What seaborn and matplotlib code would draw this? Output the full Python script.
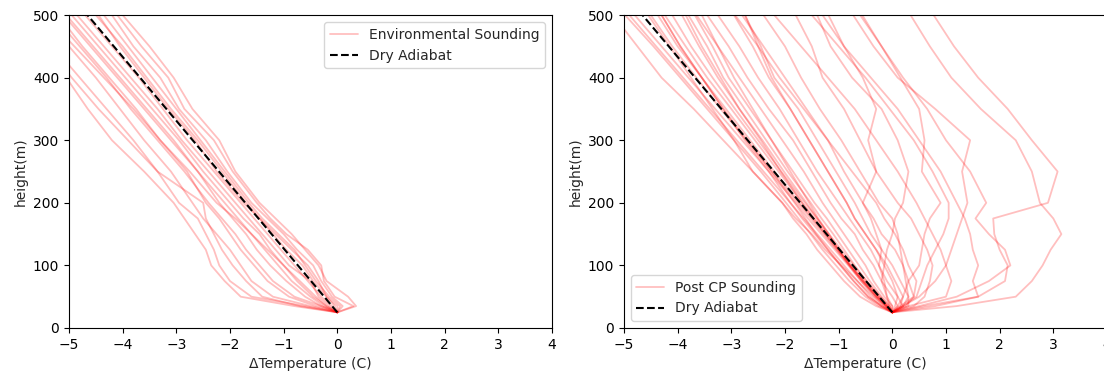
import matplotlib
matplotlib.use("Agg")
import matplotlib.pyplot as plt
import seaborn as sns

# Shared sampling heights (m) for every sounding
heights_m = [25, 35, 50, 75, 100, 125, 150, 175, 200, 250, 300, 350, 400, 450, 500]

# Dry adiabat end points
adiabat_heights = [25, 500]
adiabat_temps = [0.0, -4.655]

# ---- Environmental soundings (left panel), delta T (C) at heights_m ----
env_01 = [0, 0.35, 0.20, -0.20, -0.35, -0.60, -0.85, -1.15, -1.45, -1.90, -2.20, -2.70, -3.05, -3.50, -4.00]
env_02 = [0, 0.30, -0.05, -0.25, -0.30, -0.55, -0.95, -1.25, -1.50, -1.95, -2.30, -2.85, -3.15, -3.65, -4.10]
env_03 = [0, 0.10, -0.10, -0.30, -0.45, -0.75, -1.00, -1.30, -1.60, -2.05, -2.45, -2.95, -3.30, -3.80, -4.20]
env_04 = [0, 0.05, -0.15, -0.40, -0.60, -0.80, -1.10, -1.40, -1.65, -2.10, -2.55, -3.00, -3.45, -3.90, -4.35]
env_05 = [0, -0.05, -0.20, -0.45, -0.65, -0.95, -1.20, -1.45, -1.75, -2.25, -2.65, -3.15, -3.60, -4.05, -4.45]
env_06 = [0, -0.10, -0.30, -0.55, -0.80, -1.05, -1.30, -1.55, -1.80, -2.30, -2.80, -3.25, -3.70, -4.20, -4.70]
env_07 = [0, -0.15, -0.35, -0.50, -0.90, -1.15, -1.40, -1.65, -1.90, -2.40, -2.90, -3.35, -3.85, -4.35, -4.85]
env_08 = [0, -0.20, -0.40, -0.70, -1.00, -1.25, -1.45, -1.75, -2.00, -2.50, -2.95, -3.45, -3.95, -4.45, -4.95]
env_09 = [0, -0.25, -0.50, -0.85, -1.10, -1.35, -1.60, -1.85, -2.10, -2.60, -3.05, -3.55, -4.05, -4.55, -5.05]
env_10 = [0, -0.30, -0.60, -0.95, -1.25, -1.50, -1.70, -1.95, -2.20, -2.60, -3.10, -3.60, -4.10, -4.60, -5.10]
env_11 = [0, -0.40, -0.90, -1.30, -1.55, -1.80, -2.00, -2.20, -2.45, -2.80, -3.30, -3.75, -4.25, -4.75, -5.20]
env_12 = [0, -0.50, -1.20, -1.60, -1.80, -2.00, -2.25, -2.50, -2.70, -3.10, -3.60, -4.05, -4.50, -5.00, -5.50]
env_13 = [0, -0.60, -1.60, -2.00, -2.20, -2.30, -2.45, -2.60, -2.95, -3.35, -3.80, -4.30, -4.80, -5.30, -5.80]
env_14 = [0, -0.80, -1.80, -2.10, -2.35, -2.45, -2.65, -2.85, -3.05, -3.60, -4.20, -4.65, -5.05, -5.50, -6.00]
env_15 = [0, -0.70, -1.40, -1.70, -1.95, -2.15, -2.30, -2.45, -2.50, -3.35, -3.90, -4.45, -4.95, -5.40, -5.90]
env_16 = [0, -0.30, -0.80, -1.20, -1.45, -1.70, -1.90, -2.15, -2.40, -2.85, -3.35, -3.85, -4.30, -4.80, -5.30]
env_17 = [0, -0.20, -0.45, -0.75, -1.00, -1.30, -1.60, -1.90, -2.25, -2.75, -3.30, -3.80, -4.35, -4.90, -5.45]
env_18 = [0, 0.00, -0.20, -0.35, -0.55, -0.85, -1.15, -1.45, -1.70, -2.15, -2.60, -3.10, -3.55, -4.00, -4.50]

# ---- Post cold-pool soundings (right panel), delta T (C) at heights_m ----
post_01 = [0, -0.15, -0.35, -0.65, -0.95, -1.25, -1.50, -1.80, -2.05, -2.60, -3.15, -3.70, -4.30, -4.75, -5.20]
post_02 = [0, -0.20, -0.40, -0.65, -0.90, -1.15, -1.40, -1.65, -1.90, -2.40, -2.90, -3.40, -3.90, -4.40, -4.90]
post_03 = [0, -0.12, -0.30, -0.58, -0.82, -1.07, -1.32, -1.57, -1.80, -2.30, -2.80, -3.30, -3.80, -4.30, -4.80]
post_04 = [0, -0.10, -0.28, -0.55, -0.80, -1.04, -1.28, -1.52, -1.76, -2.25, -2.72, -3.20, -3.65, -4.10, -4.50]
post_05 = [0, -0.08, -0.25, -0.52, -0.77, -1.01, -1.25, -1.49, -1.73, -2.20, -2.65, -3.10, -3.55, -4.00, -4.37]
post_06 = [0, -0.10, -0.27, -0.53, -0.78, -1.00, -1.22, -1.45, -1.68, -2.12, -2.56, -3.00, -3.45, -3.85, -4.24]
post_07 = [0, -0.05, -0.22, -0.48, -0.72, -0.95, -1.18, -1.40, -1.63, -2.07, -2.50, -2.93, -3.35, -3.75, -4.10]
post_08 = [0, -0.12, -0.30, -0.55, -0.78, -1.00, -1.20, -1.40, -1.60, -2.02, -2.42, -2.85, -3.25, -3.60, -3.92]
post_09 = [0, -0.10, -0.25, -0.48, -0.70, -0.90, -1.10, -1.32, -1.52, -1.95, -2.35, -2.75, -3.15, -3.45, -3.80]
post_10 = [0, -0.05, -0.20, -0.42, -0.62, -0.82, -1.02, -1.22, -1.45, -1.85, -2.25, -2.65, -3.05, -3.35, -3.68]
post_11 = [0, -0.15, -0.33, -0.58, -0.80, -1.00, -1.18, -1.38, -1.55, -1.90, -2.25, -2.60, -2.95, -3.25, -3.55]
post_12 = [0, -0.20, -0.45, -0.72, -0.97, -1.20, -1.42, -1.62, -1.82, -2.25, -2.70, -3.15, -3.55, -3.95, -4.30]
post_13 = [0, -0.30, -0.60, -0.90, -1.15, -1.40, -1.60, -1.85, -2.05, -2.60, -2.95, -3.35, -3.75, -4.15, -4.55]
post_14 = [0, -0.25, -0.50, -0.80, -1.05, -1.30, -1.52, -1.75, -1.98, -2.45, -2.95, -3.45, -3.95, -4.45, -4.98]
post_15 = [0, -0.20, -0.45, -0.72, -0.96, -1.20, -1.44, -1.68, -1.90, -2.30, -2.75, -3.15, -3.55, -3.95, -4.30]
post_16 = [0, -0.10, -0.30, -0.55, -0.80, -1.03, -1.25, -1.47, -1.68, -2.08, -2.45, -2.85, -3.20, -3.55, -3.85]
post_17 = [0, 0.00, -0.15, -0.35, -0.50, -0.70, -0.90, -1.10, -1.30, -1.65, -2.05, -2.45, -2.85, -3.25, -3.65]
post_18 = [0, 0.10, 0.00, -0.20, -0.35, -0.55, -0.70, -0.95, -1.15, -1.50, -1.85, -2.30, -2.70, -3.05, -3.45]
post_19 = [0, 0.20, 0.10, -0.10, -0.25, -0.40, -0.60, -0.80, -1.00, -1.40, -1.75, -2.10, -2.50, -2.85, -3.25]
post_20 = [0, 0.15, 0.20, 0.05, -0.10, -0.30, -0.50, -0.70, -0.85, -1.20, -1.55, -1.90, -2.30, -2.60, -2.95]
post_21 = [0, 0.30, 0.30, 0.15, 0.00, -0.20, -0.40, -0.55, -0.70, -1.05, -1.40, -1.75, -2.20, -2.45, -2.75]
post_22 = [0, 0.25, 0.40, 0.30, 0.20, 0.05, -0.20, -0.35, -0.55, -0.90, -1.20, -1.60, -2.00, -2.40, -2.80]
post_23 = [0, 0.80, 1.60, 2.10, 2.15, 2.00, 1.90, 1.88, 2.90, 3.08, 2.60, 2.15, 1.60, 1.15, 0.77]
post_24 = [0, 1.20, 2.30, 2.60, 2.80, 2.95, 3.15, 3.00, 2.75, 2.60, 2.30, 1.65, 1.10, 0.70, 0.34]
post_25 = [0, 0.20, 0.50, 0.80, 1.00, 1.10, 1.20, 1.30, 1.40, 1.30, 1.45, 0.80, 0.10, -0.35, -0.73]
post_26 = [0, 0.10, 0.20, 0.30, 0.50, 0.55, 0.60, 0.70, 0.90, 0.55, 0.60, 0.50, 0.15, -0.20, -0.56]
post_27 = [0, -0.05, -0.10, -0.20, -0.15, -0.10, 0.00, 0.05, 0.20, 0.30, 0.10, -0.20, -0.75, -1.15, -1.40]
post_28 = [0, 0.00, -0.10, -0.15, -0.25, -0.20, -0.30, -0.40, -0.55, -0.30, -0.45, -0.30, -0.55, -0.90, -1.19]
post_29 = [0, 0.60, 1.60, 1.50, 1.60, 1.50, 1.45, 1.35, 1.20, 0.90, 0.50, 0.10, -0.40, -0.90, -1.30]
post_30 = [0, 0.30, 1.00, 1.10, 1.00, 0.90, 0.75, 0.60, 0.45, 0.10, -0.30, -0.70, -1.20, -1.70, -2.20]
post_31 = [0, 0.15, 0.40, 0.45, 0.30, 0.20, 0.05, -0.15, -0.30, -0.75, -1.20, -1.65, -2.10, -2.50, -2.93]
post_32 = [0, 0.05, 0.10, 0.00, -0.15, -0.30, -0.50, -0.70, -0.85, -1.20, -1.55, -1.90, -2.25, -2.50, -2.74]
post_33 = [0, 0.40, 0.60, 0.70, 0.75, 0.65, 0.50, 0.35, 0.10, -0.30, -0.60, -0.90, -1.30, -1.50, -1.80]
post_34 = [0, 0.20, 0.30, 0.25, 0.20, 0.15, 0.10, 0.00, -0.25, -0.60, -0.95, -1.35, -1.70, -2.00, -2.40]
post_35 = [0, 0.50, 1.20, 1.80, 2.20, 2.10, 1.80, 1.55, 1.75, 1.45, 1.00, 0.65, 0.20, -0.20, -0.60]
post_36 = [0, 0.20, 0.45, 0.55, 0.65, 0.80, 0.95, 1.05, 1.05, 0.75, 0.40, -0.05, -0.50, -1.00, -1.50]

env_soundings = [env_01, env_02, env_03, env_04, env_05, env_06, env_07, env_08, env_09,
                 env_10, env_11, env_12, env_13, env_14, env_15, env_16, env_17, env_18]
post_soundings = [post_01, post_02, post_03, post_04, post_05, post_06, post_07, post_08, post_09,
                  post_10, post_11, post_12, post_13, post_14, post_15, post_16, post_17, post_18,
                  post_19, post_20, post_21, post_22, post_23, post_24, post_25, post_26, post_27,
                  post_28, post_29, post_30, post_31, post_32, post_33, post_34, post_35, post_36]

x_ticks = [-5, -4, -3, -2, -1, 0, 1, 2, 3, 4]
y_ticks = [0, 100, 200, 300, 400, 500]

sns.set_style("white")
plt.rcParams['font.family'] = ['DejaVu Sans']
plt.rcParams['font.size'] = 10

fig = plt.figure(figsize=(11.04, 3.77), dpi=100)
ax1 = fig.add_axes([0.0625, 0.130, 0.4375, 0.830])
ax2 = fig.add_axes([0.5652, 0.130, 0.4375, 0.830])


def draw_panel(ax, soundings, label, legend_loc):
    for i, temps in enumerate(soundings):
        sns.lineplot(x=temps, y=heights_m, sort=False, estimator=None, ax=ax,
                     color='red', alpha=0.25, linewidth=1.3,
                     label=label if i == 0 else None, legend=False)
    sns.lineplot(x=adiabat_temps, y=adiabat_heights, sort=False, estimator=None, ax=ax,
                 color='black', linestyle='--', linewidth=1.5, label='Dry Adiabat', legend=False)
    ax.set_xlim(-5, 4)
    ax.set_ylim(0, 500)
    ax.set_xticks(x_ticks)
    ax.set_yticks(y_ticks)
    ax.set_xlabel('ΔTemperature (C)')
    ax.set_ylabel('height(m)')
    for s in ax.spines.values():
        s.set_color('black')
        s.set_linewidth(0.8)
    ax.tick_params(axis='both', which='major', direction='out', length=3.5, width=0.8,
                   color='black', labelcolor='black', bottom=True, left=True)
    ax.legend(loc=legend_loc, frameon=True)


draw_panel(ax1, env_soundings, 'Environmental Sounding', 'upper right')
draw_panel(ax2, post_soundings, 'Post CP Sounding', 'lower left')

fig.savefig('out.png', dpi=100, facecolor='white')
